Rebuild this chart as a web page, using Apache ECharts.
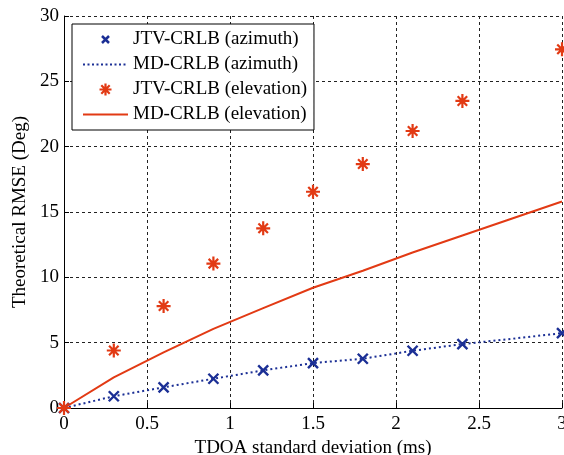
<!DOCTYPE html>
<html>
<head>
<meta charset="utf-8">
<script src="https://cdn.jsdelivr.net/npm/echarts@6/dist/echarts.min.js"></script>
<style>html,body{margin:0;padding:0;background:#fff;}#c{width:564px;height:455px;}</style>
</head>
<body>
<div id="c"></div>
<script>
const xMarkers = [0, 0.3, 0.6, 0.9, 1.2, 1.5, 1.8, 2.1, 2.4, 3.0];
const jtvAzimuth = [0, 0.9, 1.58, 2.24, 2.88, 3.44, 3.77, 4.38, 4.89, 5.73];
const jtvElevation = [0, 4.4, 7.8, 11.05, 13.75, 16.55, 18.67, 21.2, 23.5, 27.45];
const xLine = [0, 0.3, 0.6, 0.9, 1.2, 1.5, 1.8, 2.1, 2.4, 2.7, 3.0];
const mdAzimuth = [0, 0.9, 1.58, 2.24, 2.88, 3.44, 3.77, 4.38, 4.89, 5.3, 5.73];
const mdElevation = [0, 2.35, 4.25, 6.05, 7.64, 9.2, 10.5, 11.9, 13.2, 14.5, 15.8];
const xTicks = [0, 0.5, 1, 1.5, 2, 2.5, 3];
const yTicks = [0, 5, 10, 15, 20, 25, 30];

const RED = '#e23a14';
const BLUE = '#1b2f95';
const FONT = 'Liberation Serif';
const crossPath = 'path://M0,0 L10,10 M10,0 L0,10';
const starPath = 'path://M5,0 L5,10 M0,5 L10,5 M1.6,1.6 L8.4,8.4 M8.4,1.6 L1.6,8.4';
const legendCross = 'path://M0,0 L0,0 M3.5,3.5 L10.5,10.5 M10.5,3.5 L3.5,10.5 M14,14 L14,14';
const legendStar = 'path://M0,0 L0,0 M7,1 L7,13 M1,7 L13,7 M2.8,2.8 L11.2,11.2 M11.2,2.8 L2.8,11.2 M14,14 L14,14';
const legendLine = 'path://M0,0 L0,0 M0,7 L45,7 M0,14 L0,14';

function pairs(xs, ys) { return xs.map((x, i) => [x, ys[i]]); }

const chart = echarts.init(document.getElementById('c'), null, {renderer: 'canvas'});
chart.setOption({
  animation: false,
  backgroundColor: '#fff',
  grid: {left: 64, right: 2, top: 16, bottom: 47, containLabel: false, outerBoundsMode: 'none'},
  xAxis: {
    type: 'value', min: 0, max: 3, interval: 0.5,
    name: 'TDOA standard deviation (ms)', nameLocation: 'middle', nameGap: 27,
    nameTextStyle: {fontFamily: FONT, fontSize: 19, color: '#000'},
    axisLine: {show: true, lineStyle: {color: '#000', width: 1}},
    axisTick: {show: true, inside: true, length: 5, lineStyle: {color: '#000'}},
    axisLabel: {fontFamily: FONT, fontSize: 19, color: '#000', margin: 7,
      formatter: v => (xTicks.includes(+v.toFixed(2)) ? String(+v.toFixed(2)) : '')},
    splitLine: {show: true, lineStyle: {color: '#222', type: [3, 3], width: 1}}
  },
  yAxis: {
    type: 'value', min: 0, max: 30, interval: 5,
    name: 'Theoretical RMSE (Deg)', nameLocation: 'middle', nameGap: 29,
    nameTextStyle: {fontFamily: FONT, fontSize: 19, color: '#000'},
    axisLine: {show: true, lineStyle: {color: '#000', width: 1}},
    axisTick: {show: true, inside: true, length: 5, lineStyle: {color: '#000'}},
    axisLabel: {fontFamily: FONT, fontSize: 19, color: '#000', margin: 5,
      formatter: v => (yTicks.includes(v) ? String(v) : '')},
    splitLine: {show: true, lineStyle: {color: '#222', type: [3, 3], width: 1}}
  },
  legend: {
    orient: 'vertical', left: 72, top: 24,
    padding: [6, 7, 6, 10], itemGap: 6, itemWidth: 45, itemHeight: 14,
    backgroundColor: '#fff', borderColor: '#000', borderWidth: 1, borderRadius: 0,
    textStyle: {fontFamily: FONT, fontSize: 19, color: '#000'},
    data: [
      {name: 'JTV-CRLB (azimuth)', icon: legendCross,
        itemStyle: {color: BLUE, borderColor: BLUE, borderWidth: 2.5}},
      {name: 'MD-CRLB (azimuth)', icon: legendLine,
        itemStyle: {color: BLUE, borderColor: BLUE, borderWidth: 2, borderType: [2, 2.5]}},
      {name: 'JTV-CRLB (elevation)', icon: legendStar,
        itemStyle: {color: RED, borderColor: RED, borderWidth: 2.2}},
      {name: 'MD-CRLB (elevation)', icon: legendLine,
        itemStyle: {color: RED, borderColor: RED, borderWidth: 2, borderType: 'solid'}}
    ]
  },
  series: [
    {
      name: 'MD-CRLB (azimuth)', type: 'line', data: pairs(xLine, mdAzimuth),
      symbol: 'none', z: 2,
      lineStyle: {color: BLUE, width: 2, type: [2, 3]}, itemStyle: {color: BLUE}
    },
    {
      name: 'MD-CRLB (elevation)', type: 'line', data: pairs(xLine, mdElevation),
      symbol: 'none', z: 2,
      lineStyle: {color: RED, width: 2, type: 'solid'}, itemStyle: {color: RED}
    },
    {
      name: 'JTV-CRLB (azimuth)', type: 'scatter', data: pairs(xMarkers, jtvAzimuth),
      symbol: crossPath, symbolSize: 10, z: 3,
      itemStyle: {color: BLUE, borderColor: BLUE, borderWidth: 2.4, opacity: 1}
    },
    {
      name: 'JTV-CRLB (elevation)', type: 'scatter', data: pairs(xMarkers, jtvElevation),
      symbol: starPath, symbolSize: 14, z: 3,
      itemStyle: {color: RED, borderColor: RED, borderWidth: 2.2, opacity: 1}
    }
  ]
});
</script>
</body>
</html>
